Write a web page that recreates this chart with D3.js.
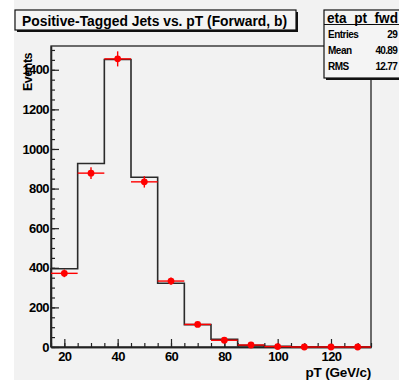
<!DOCTYPE html>
<html>
<head>
<meta charset="utf-8">
<script src="https://cdn.jsdelivr.net/npm/d3@7"></script>
<style>
  html, body { margin: 0; padding: 0; background: #ffffff; }
  svg { display: block; }
  text { font-family: "Liberation Sans", Arial, Helvetica, sans-serif; font-weight: bold; fill: #000; }
</style>
</head>
<body>
<script>
// Bin centres (pT, GeV/c), 10 GeV wide bins from 15 to 135
const binCenters = [20, 30, 40, 50, 60, 70, 80, 90, 100, 110, 120, 130];
// Reference histogram (black line)
const histCounts = [395, 927, 1452, 857, 322, 113, 39, 8, 3, 1, 0, 0];
// Data points (red markers with error bars)
const dataCounts = [372, 878, 1455, 834, 333, 114, 34, 10, 2, 0, 0, 0];
const xTicks = [20, 40, 60, 80, 100, 120];
const yTicks = [0, 200, 400, 600, 800, 1000, 1200, 1400];
const statLabels = ["Entries", "Mean", "RMS"];
const statValues = ["29", "40.89", "12.77"];

const W = 399, H = 380;
const plotL = 51, plotR = 371, plotT = 46, plotB = 347;
const binWidth = 10;

const svg = d3.select("body").append("svg").attr("width", W).attr("height", H);

// canvas background
svg.append("rect").attr("x", 14).attr("y", 0).attr("width", W - 14).attr("height", H).attr("fill", "#f2f2f2");

const x = d3.scaleLinear().domain([15, 135]).range([plotL, plotR]);
const y = d3.scaleLinear().domain([0, 1520]).range([plotB, plotT]);

// frame
svg.append("rect").attr("x", plotL).attr("y", plotT).attr("width", plotR - plotL).attr("height", plotB - plotT)
  .attr("fill", "none").attr("stroke", "#222").attr("stroke-width", 1.3);

// histogram drawn as a step outline
const stepPts = [];
binCenters.forEach((c, i) => {
  stepPts.push([x(c - binWidth / 2), y(histCounts[i])]);
  stepPts.push([x(c + binWidth / 2), y(histCounts[i])]);
});
const first = [x(binCenters[0] - binWidth / 2), y(0)];
const last = [x(binCenters[binCenters.length - 1] + binWidth / 2), y(0)];
svg.append("path")
  .attr("d", d3.line()([first, ...stepPts, last]))
  .attr("fill", "none").attr("stroke", "#2a2a2a").attr("stroke-width", 1.6);

// axes: inward major and minor ticks
const yMajor = d3.axisLeft(y).tickValues(yTicks).tickSizeInner(-8).tickSizeOuter(0).tickPadding(2).tickFormat(d3.format("d"));
const yMinor = d3.axisLeft(y).tickValues(d3.range(0, 1501, 50)).tickSizeInner(-4).tickSizeOuter(0).tickFormat("");
const xMajor = d3.axisBottom(x).tickValues(xTicks).tickSizeInner(-8).tickSizeOuter(0).tickPadding(5).tickFormat(d3.format("d"));
const xMinor = d3.axisBottom(x).tickValues(d3.range(15, 136, 5)).tickSizeInner(-4).tickSizeOuter(0).tickFormat("");

function styleAxis(g) {
  g.select(".domain").attr("stroke", "#222").attr("stroke-width", 1.3);
  g.selectAll(".tick line").attr("stroke", "#222").attr("stroke-width", 1.2);
  g.selectAll("text").attr("font-size", 13).attr("font-family", "Liberation Sans, Arial, sans-serif")
    .attr("font-weight", "bold").attr("fill", "#000").attr("letter-spacing", -0.6);
}
svg.append("g").attr("transform", `translate(${plotL},0)`).call(yMinor).call(styleAxis);
svg.append("g").attr("transform", `translate(${plotL},0)`).call(yMajor).call(styleAxis);
svg.append("g").attr("transform", `translate(0,${plotB})`).call(xMinor).call(styleAxis);
svg.append("g").attr("transform", `translate(0,${plotB})`).call(xMajor).call(styleAxis);

// data points with error bars
const red = "#ff0000";
const pts = svg.append("g");
binCenters.forEach((c, i) => {
  const v = dataCounts[i];
  const err = Math.sqrt(v);
  pts.append("line").attr("x1", x(c - binWidth / 2)).attr("x2", x(c + binWidth / 2))
    .attr("y1", y(v)).attr("y2", y(v)).attr("stroke", red).attr("stroke-width", 1.4);
  if (err > 0) {
    pts.append("line").attr("x1", x(c)).attr("x2", x(c))
      .attr("y1", y(v + err)).attr("y2", y(v - err)).attr("stroke", red).attr("stroke-width", 1.4);
  }
  pts.append("circle").attr("cx", x(c)).attr("cy", y(v)).attr("r", 3.4).attr("fill", red);
});

// axis titles
svg.append("text").attr("transform", "translate(32,53) rotate(-90)")
  .attr("text-anchor", "end").attr("font-size", 12.5).attr("letter-spacing", -0.5).text("Events");
svg.append("text").attr("x", plotR).attr("y", 377)
  .attr("text-anchor", "end").attr("font-size", 13.5).attr("letter-spacing", -0.2).text("pT (GeV/c)");

// title box with shadow
function shadowBox(x0, y0, w, h) {
  svg.append("rect").attr("x", x0 + 2).attr("y", y0 + 2).attr("width", w).attr("height", h).attr("fill", "#111");
  svg.append("rect").attr("x", x0).attr("y", y0).attr("width", w).attr("height", h)
    .attr("fill", "#f4f4f4").attr("stroke", "#111").attr("stroke-width", 1.2);
}
shadowBox(15, 10, 281, 20);
svg.append("text").attr("x", 22).attr("y", 25.5).attr("font-size", 14.5)
  .attr("textLength", 265).attr("lengthAdjust", "spacingAndGlyphs")
  .text("Positive-Tagged Jets  vs. pT (Forward, b)");

// statistics box
shadowBox(324, 10, 80, 68);
svg.append("line").attr("x1", 324).attr("x2", 404).attr("y1", 24.5).attr("y2", 24.5).attr("stroke", "#111").attr("stroke-width", 1.2);
svg.append("text").attr("x", 327).attr("y", 22.5).attr("font-size", 14)
  .attr("textLength", 71).attr("lengthAdjust", "spacingAndGlyphs").text("eta_pt_fwd");
statLabels.forEach((s, i) => {
  const yy = 37.5 + i * 16;
  svg.append("text").attr("x", 328).attr("y", yy).attr("font-size", 10).attr("letter-spacing", -0.5).text(s);
  svg.append("text").attr("x", 397).attr("y", yy).attr("text-anchor", "end").attr("font-size", 10)
    .attr("letter-spacing", -0.7).text(statValues[i]);
});
</script>
</body>
</html>
